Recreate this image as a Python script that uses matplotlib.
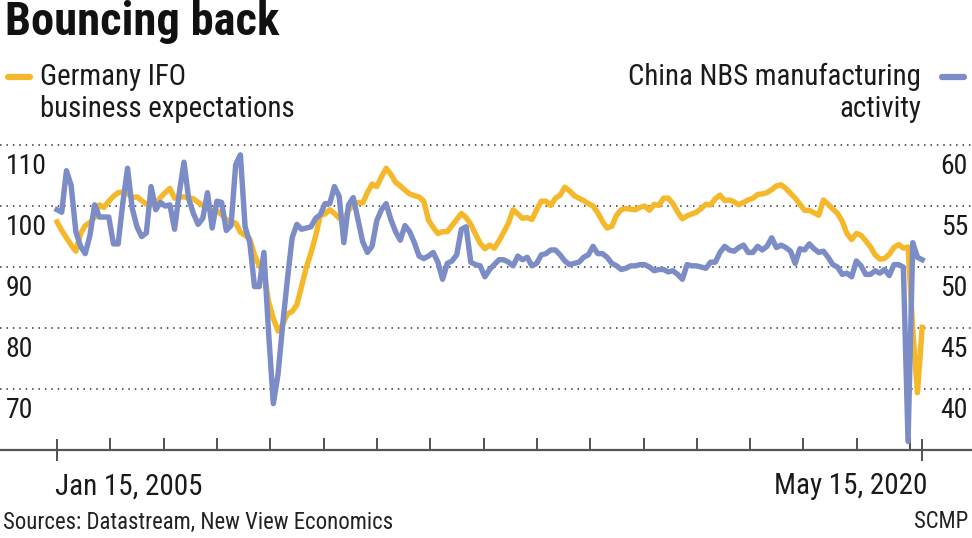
import numpy as np
import matplotlib
matplotlib.use('Agg')
import matplotlib.pyplot as plt
from matplotlib import font_manager as fm
from matplotlib.lines import Line2D

# pick a condensed face if there is one
names = {f.name for f in fm.fontManager.ttflist}
FONT = 'DejaVu Sans'
for cand in ['Liberation Sans Narrow', 'Roboto Condensed', 'Open Sans Condensed', 'Liberation Sans']:
    if cand in names:
        FONT = cand
        break
narrow = ('Narrow' in FONT) or ('Condensed' in FONT)
S = 1.0 if narrow else 0.82
plt.rcParams['font.family'] = [FONT, 'DejaVu Sans']

# monthly data, Jan 2005 .. May 2020
germany_ifo = [
    97.4, 96.0, 94.8, 93.6, 92.6, 95.5, 96.8, 97.3, 98.2, 100.2, 99.8, 100.8,      # 2005
    101.6, 102.2, 102.3, 102.1, 101.4, 101.5, 100.9, 100.3, 100.2, 100.3, 101.4, 102.2,  # 2006
    102.9, 101.3, 101.5, 101.5, 101.4, 101.2, 100.6, 100.1, 99.7, 99.2, 99.2, 98.6,  # 2007
    97.8, 97.5, 97.2, 95.7, 95.2, 94.6, 92.0, 90.2, 89.3, 84.3, 81.6, 79.5,          # 2008
    80.6, 82.3, 82.7, 83.8, 86.8, 89.9, 92.3, 95.1, 98.5, 98.7, 99.4, 98.8,          # 2009
    98.0, 97.7, 99.3, 100.3, 100.6, 100.5, 102.2, 103.6, 103.2, 104.8, 106.2, 105.2,  # 2010
    103.9, 103.3, 102.6, 102.0, 101.7, 101.5, 100.8, 97.7, 96.5, 95.5, 95.8, 95.8,   # 2011
    96.8, 97.8, 98.8, 98.1, 97.0, 95.4, 93.9, 93.0, 93.6, 93.1, 94.3, 95.7,          # 2012
    97.2, 99.4, 98.7, 98.0, 98.1, 97.8, 99.4, 100.8, 100.8, 100.1, 101.3, 101.8,     # 2013
    103.1, 102.5, 101.7, 101.3, 100.9, 100.4, 100.0, 98.9, 97.5, 96.4, 96.7, 98.5,   # 2014
    99.4, 99.6, 99.5, 99.4, 99.8, 100.0, 99.3, 100.3, 100.1, 101.3, 101.3, 100.4,    # 2015
    99.0, 97.9, 98.4, 98.7, 99.0, 99.6, 100.3, 100.2, 101.2, 101.8, 100.9, 101.0,    # 2016
    100.7, 100.2, 100.6, 101.0, 101.3, 101.9, 102.0, 102.2, 102.7, 103.3, 103.5, 102.9,  # 2017
    102.1, 101.3, 100.3, 99.3, 99.3, 98.9, 98.5, 101.0, 100.3, 99.5, 98.8, 97.5,     # 2018
    95.5, 94.5, 95.5, 95.2, 94.3, 93.3, 92.0, 91.3, 91.4, 92.1, 93.2, 93.7,          # 2019
    93.1, 93.3, 79.8, 69.4, 80.1,                                                    # 2020
]
china_nbs = [
    54.7, 54.5, 57.9, 56.7, 52.9, 51.7, 51.1, 52.6, 55.1, 54.1, 54.1, 54.1,
    51.9, 51.9, 55.3, 58.1, 54.8, 53.3, 52.5, 52.8, 56.6, 54.7, 55.3, 55.0,
    55.1, 53.1, 56.1, 58.6, 55.6, 54.4, 53.5, 54.0, 56.1, 53.2, 55.4, 55.3,
    53.0, 53.4, 58.4, 59.2, 53.3, 52.0, 48.4, 48.4, 51.2, 44.6, 38.8, 41.2,
    45.3, 49.0, 52.4, 53.5, 53.1, 53.2, 53.3, 54.0, 54.3, 55.2, 55.2, 56.6,
    55.8, 52.0, 55.1, 55.7, 53.9, 52.1, 51.2, 51.7, 53.8, 54.7, 55.2, 53.9,
    52.9, 52.2, 53.4, 52.9, 52.0, 50.9, 50.7, 50.9, 51.2, 50.4, 49.0, 50.3,
    50.5, 51.0, 53.1, 53.3, 50.4, 50.2, 50.1, 49.2, 49.8, 50.2, 50.6, 50.6,
    50.4, 50.1, 50.9, 50.6, 50.8, 50.1, 50.3, 51.0, 51.1, 51.4, 51.4, 51.0,
    50.5, 50.2, 50.3, 50.4, 50.8, 51.0, 51.7, 51.1, 51.1, 50.8, 50.3, 50.1,
    49.8, 49.9, 50.1, 50.1, 50.2, 50.2, 50.0, 49.7, 49.8, 49.8, 49.6, 49.7,
    49.4, 49.0, 50.2, 50.1, 50.1, 50.0, 49.9, 50.4, 50.4, 51.2, 51.7, 51.4,
    51.3, 51.6, 51.8, 51.2, 51.2, 51.7, 51.4, 51.7, 52.4, 51.6, 51.8, 51.6,
    51.3, 50.3, 51.5, 51.4, 51.9, 51.5, 51.2, 51.3, 50.8, 50.2, 50.0, 49.4,
    49.5, 49.2, 50.5, 50.1, 49.4, 49.4, 49.7, 49.5, 49.8, 49.3, 50.2, 50.2,
    50.0, 35.7, 52.0, 50.8, 50.6,
]
left_ticks = [70, 80, 90, 100, 110]
right_ticks = [40, 45, 50, 55, 60]
date_labels = ['Jan 15, 2005', 'May 15, 2020']

YELLOW = '#F6B82B'
BLUE = '#7C8CC6'
GRID = '#333333'
TEXT = '#1a1a1a'

W, H = 972, 538
months = np.arange(len(germany_ifo))

fig = plt.figure(figsize=(W / 100, H / 100), dpi=100)
ax = fig.add_axes([0, 88 / H, 1, 311 / H])
ax.set_xlim(-12.13, 194.6)
ax.set_ylim(60, 111)
ax2 = ax.twinx()
ax2.set_ylim(35, 60.5)

for a in (ax, ax2):
    for s in ['top', 'left', 'right']:
        a.spines[s].set_visible(False)
    a.set_yticks([])
ax2.spines['bottom'].set_visible(False)
ax2.tick_params(bottom=False, labelbottom=False)
ax.spines['bottom'].set_color('#555555')
ax.spines['bottom'].set_linewidth(1.6)

# dotted gridlines + labels sitting under them
for v in left_ticks:
    ax.axhline(v, color=GRID, lw=1.1, ls=(0, (1, 3.2)), zorder=0)
    ax.annotate(str(v), xy=(0, v), xycoords=('axes fraction', 'data'),
                xytext=(4, -6), textcoords='offset points',
                ha='left', va='top', fontsize=20 * S, color=TEXT)
for v in right_ticks:
    ax2.annotate(str(v), xy=(1, v), xycoords=('axes fraction', 'data'),
                 xytext=(-3, -6), textcoords='offset points',
                 ha='right', va='top', fontsize=20 * S, color=TEXT)

ax.plot(months, germany_ifo, color=YELLOW, lw=3.9, solid_joinstyle='round', zorder=3)
ax2.plot(months, china_nbs, color=BLUE, lw=3.9, solid_joinstyle='round', zorder=3)

# x ticks
minor = np.arange(17) * 11.34
ax.set_xticks([0, len(months) - 1])
ax.set_xticklabels([])
ax.set_xticks(minor, minor=True)
ax.tick_params(axis='x', which='major', direction='inout', length=16, width=1.3, color='#444444')
ax.tick_params(axis='x', which='minor', direction='in', length=8.5, width=1.3, color='#444444')
ax.text(-0.4, -0.072, date_labels[0], transform=ax.get_xaxis_transform(),
        ha='left', va='top', fontsize=21 * S, color=TEXT)
ax.text(len(months) - 1 + 1.2, -0.072, date_labels[1], transform=ax.get_xaxis_transform(),
        ha='right', va='top', fontsize=21 * S, color=TEXT)

# title, legend, footer
fig.text(5 / W, 1 - 22 / H, 'Bouncing back', ha='left', va='center',
         fontsize=33.5 * S, fontweight='bold', color='#111111')
fig.add_artist(Line2D([8 / W, 30 / W], [1 - 77 / H] * 2, transform=fig.transFigure,
                      color=YELLOW, lw=4.5, solid_capstyle='round'))
fig.add_artist(Line2D([942 / W, 964 / W], [1 - 77 / H] * 2, transform=fig.transFigure,
                      color=BLUE, lw=4.5, solid_capstyle='round'))
fig.text(40 / W, 1 - 93 / H, 'Germany IFO\nbusiness expectations', ha='left', va='center',
         fontsize=20.8 * S, color=TEXT, linespacing=1.2)
fig.text(921 / W, 1 - 93 / H, 'China NBS manufacturing\nactivity', ha='right', va='center',
         fontsize=20.8 * S, color=TEXT, linespacing=1.2, multialignment='right')
fig.text(3 / W, 1 - 522 / H, 'Sources: Datastream, New View Economics', ha='left', va='center',
         fontsize=16.4 * S, color='#222222')
fig.text(968 / W, 1 - 522 / H, 'SCMP', ha='right', va='center',
         fontsize=16.4 * S, color='#222222')

fig.savefig('out.png', dpi=100)
